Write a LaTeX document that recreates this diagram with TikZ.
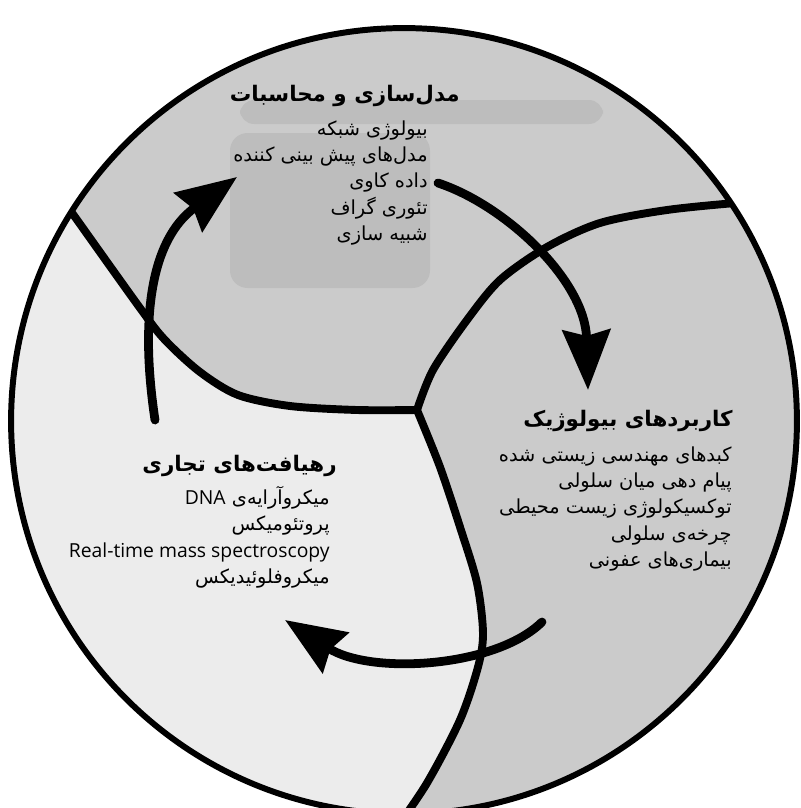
\documentclass[tikz,border=0pt]{standalone}
\usepackage{fontspec}
\usetikzlibrary{arrows.meta}
\newfontfamily\fafont[Script=Arabic]{DejaVu Sans}
\newfontfamily\enfont{Open Sans}
\TeXXeTstate=1
\definecolor{topgray}{HTML}{CBCBCB}
\definecolor{leftgray}{HTML}{ECECEC}
\definecolor{smudge}{HTML}{BDBDBD}
\newcommand{\Fa}[1]{\beginR #1\endR}
\tikzset{border/.style={line width=4.5pt,line join=round}}
\tikzset{cycarrow/.style={line width=5pt,line cap=round,-{Stealth[length=1.2cm,width=0.95cm,inset=0.12cm]}}}
\tikzset{head/.style={font=\fafont\bfseries\fontsize{12.2}{15}\selectfont,inner sep=0pt,anchor=east}}
\tikzset{items/.style={font=\fafont\fontsize{11}{15}\selectfont,align=right,inner sep=0pt,anchor=north east}}

\begin{document}
\begin{tikzpicture}[x=0.02cm,y=-0.02cm]
\useasboundingbox (0,0) rectangle (801,808);
\clip (0,0) rectangle (801,808);
\begin{scope}
\clip (404,421) circle [radius=7.86cm];
\fill[topgray] (0,0) rectangle (801,808);
\fill[leftgray] plot[smooth] coordinates {(417,410) (357,410) (290,406) (238,395) (200,372) (165,340) (140,308) (70,210) (20,140)}
  -- (-10,140) -- (-10,840) -- (390,840)
  -- plot[smooth] coordinates {(395,830) (427,783) (460,720) (478,667) (483,633) (477,583) (460,527) (440,467) (417,410)} -- cycle;
% washed out patch behind the top list
\fill[smudge,rounded corners=8pt] (240,100) rectangle (603,124);
\fill[smudge,rounded corners=10pt] (230,133) rectangle (430,288);
%
\draw[border] plot[smooth] coordinates {(417,410) (357,410) (290,406) (238,395) (200,372) (165,340) (140,308) (70,210) (20,140)};
\draw[border] plot[smooth] coordinates {(417,410) (433,370) (467,320) (500,280) (547,247) (600,223) (667,210) (747,202) (830,196)};
\draw[border] plot[smooth] coordinates {(417,410) (440,467) (460,527) (477,583) (483,633) (478,667) (460,720) (427,783) (395,830)};
\end{scope}
\draw[line width=3.4pt] (404,421) circle [radius=7.86cm];

\coordinate (a1s) at (438,183);
\coordinate (a1e) at (588,390);
\coordinate (a2s) at (542,622);
\coordinate (a2e) at (285,620);
\coordinate (a3s) at (155,420);
\coordinate (a3e) at (237,177);
\draw[cycarrow] (a1s) .. controls (505,205) and (585,280) .. (a1e);
\draw[cycarrow] (a2s) .. controls (495,668) and (370,675) .. (a2e);
\draw[cycarrow] (a3s) .. controls (140,320) and (150,240) .. (a3e);

\node (model) [head] at (460,96) {\Fa{مدل^^^^200cسازی و محاسبات}};
\node (modellist) [items] at (428,120) {\Fa{بیولوژی شبکه}\\ \Fa{مدل^^^^200cهای پیش بینی کننده}\\ \Fa{داده کاوی}\\ \Fa{تئوری گراف}\\ \Fa{شبیه سازی}};
\node (bio) [head] at (733,421) {\Fa{کاربردهای بیولوژیک}};
\node (biolist) [items] at (732,446) {\Fa{کبدهای مهندسی زیستی شده}\\ \Fa{پیام دهی میان سلولی}\\ \Fa{توکسیکولوژی زیست محیطی}\\ \Fa{چرخه^^^^200cی سلولی}\\ \Fa{بیماری^^^^200cهای عفونی}};
\node (tech) [head] at (337,466) {\Fa{رهیافت^^^^200cهای تجاری}};
\node (techlist) [items] at (330,486) {\Fa{میکروآرایه^^^^200cی \beginL{\enfont DNA}\endL}\\ \Fa{پروتئومیکس}\\ {\enfont Real-time mass spectroscopy}\\ \Fa{میکروفلوئیدیکس}};
\end{tikzpicture}
\end{document}
